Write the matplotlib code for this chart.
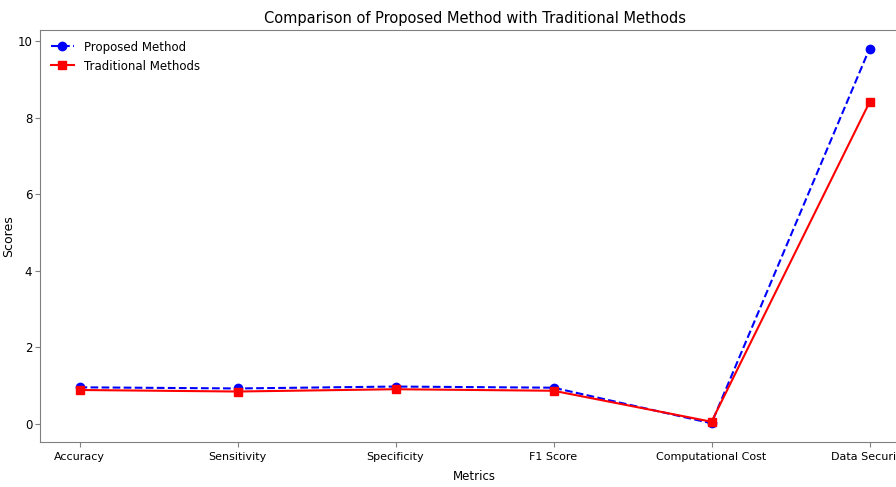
import matplotlib
matplotlib.use("Agg")
import matplotlib.pyplot as plt
from matplotlib import font_manager

metrics = ['Accuracy', 'Sensitivity', 'Specificity', 'F1 Score', 'Computational Cost', 'Data Security']
proposed = [0.95, 0.92, 0.97, 0.94, 0.01, 9.8]
traditional = [0.88, 0.84, 0.90, 0.86, 0.05, 8.4]

# look for a narrow face, else fall back to Liberation Sans
narrow = [f for f in font_manager.fontManager.ttflist
          if 'Narrow' in f.name or 'Condensed' in f.name or 'condensed' in str(f.stretch)]
if narrow:
    fam = narrow[0].name
else:
    fam = 'Liberation Sans'
plt.rcParams['font.family'] = [fam, 'DejaVu Sans']

fig = plt.figure(figsize=(8.96, 4.87), dpi=100)
ax = fig.add_axes([40/896, 45/487, 869/896, 412/487])
ax.plot(metrics, proposed, 'o--', color='blue', label='Proposed Method')
ax.plot(metrics, traditional, 's-', color='red', label='Traditional Methods')
ax.set_title('Comparison of Proposed Method with Traditional Methods', fontsize=10.5, pad=5)
ax.set_xlabel('Metrics', fontsize=8.5, labelpad=6)
ax.set_ylabel('Scores', fontsize=9, labelpad=2)
ax.tick_params(axis='x', labelsize=8, color='gray')
ax.tick_params(axis='y', labelsize=8.5, color='gray', pad=2)
for s in ax.spines.values():
    s.set_color('gray')
ax.legend(frameon=False, fontsize=8.5, loc='upper left')
fig.savefig('out.png', dpi=100)
